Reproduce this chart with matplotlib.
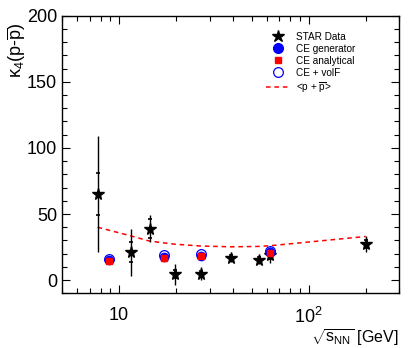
import numpy as np
import matplotlib
matplotlib.use('Agg')
import matplotlib.pyplot as plt
from matplotlib.ticker import FixedLocator, LogLocator, FuncFormatter, MultipleLocator, NullFormatter
from matplotlib.lines import Line2D

plt.rcParams['font.family'] = ['Liberation Sans', 'DejaVu Sans']
plt.rcParams['mathtext.fontset'] = 'custom'
plt.rcParams['mathtext.rm'] = 'Liberation Sans'
plt.rcParams['mathtext.it'] = 'Liberation Sans:italic'

# STAR data
star_snn = [7.7, 11.5, 14.5, 19.6, 27, 39, 54.4, 62.4, 200]
star_k4 = [65, 21, 39, 4.5, 5, 17, 15.3, 19, 27.5]
star_stat = [44, 17.5, 10.5, 8, 5, 3, 3, 6, 6]
star_sys = [16, 7.5, 7, 3, 2, 2, 2, 3, 3]

# canonical ensemble points
ce_snn = [8.8, 17.3, 27, 62.4]
ce_gen = [15, 17.5, 18.5, 21]
ce_ana = [14.5, 17, 18, 20.5]
ce_volf = [16, 19, 20, 22]

# <p + pbar>
mean_snn = [7.7, 11.5, 14.5, 19.6, 27, 39, 54.4, 62.4, 200]
mean_val = [40, 33.5, 29.5, 27.2, 25.8, 25.2, 25.5, 26, 33]

fig = plt.figure(figsize=(4.11, 3.48), dpi=100)
ax = fig.add_axes([0.151, 0.157, 0.820, 0.798])

ax.plot(mean_snn, mean_val, 'r--', lw=1.1, dashes=(3, 2.5), zorder=2)

ax.errorbar(star_snn, star_k4, yerr=star_stat, fmt='none', ecolor='k',
            elinewidth=1.0, capsize=0, zorder=3)
ax.errorbar(star_snn, star_k4, yerr=star_sys, fmt='none', ecolor='k',
            elinewidth=0, capsize=1.5, capthick=1.2, zorder=3)
ax.plot(star_snn, star_k4, 'k*', ms=8.5, zorder=4)

ax.plot(ce_snn, ce_volf, 'o', mfc='none', mec='blue', ms=7, mew=0.9, zorder=5)
ax.plot(ce_snn, ce_gen, 'o', color='blue', ms=6, zorder=5)
ax.plot(ce_snn, ce_ana, 's', color='red', ms=4, zorder=6)

ax.set_xscale('log')
ax.set_xlim(5, 300)
ax.set_ylim(-10, 200)

ax.xaxis.set_major_locator(FixedLocator([10, 100]))
ax.xaxis.set_major_formatter(FuncFormatter(lambda v, p: '10' if v == 10 else r'$10^2$'))
ax.xaxis.set_minor_locator(LogLocator(base=10, subs=np.arange(2, 10)))
ax.xaxis.set_minor_formatter(NullFormatter())
ax.yaxis.set_major_locator(MultipleLocator(50))
ax.yaxis.set_minor_locator(MultipleLocator(10))

ax.tick_params(which='both', direction='in', top=True, right=True, labelsize=13)
ax.tick_params(which='major', length=6, width=0.8)
ax.tick_params(which='minor', length=3.5, width=0.8)
ax.tick_params(axis='x', which='major', pad=10)
for s in ax.spines.values():
    s.set_linewidth(1.0)

ax.set_ylabel('κ$_{4}$(p-$\\overline{\\mathrm{p}}$)', fontsize=13)
ax.yaxis.set_label_coords(-0.10, 0.975)
ax.yaxis.label.set_horizontalalignment('right')
ax.set_xlabel(r'$\sqrt{\mathrm{s}_{\mathrm{NN}}}$ [GeV]', fontsize=11.5)
ax.xaxis.set_label_coords(1.0, -0.122)
ax.xaxis.label.set_horizontalalignment('right')

handles = [
    Line2D([], [], ls='none', marker='*', color='k', ms=9),
    Line2D([], [], ls='none', marker='o', color='blue', ms=7),
    Line2D([], [], ls='none', marker='s', color='red', ms=4),
    Line2D([], [], ls='none', marker='o', mfc='none', mec='blue', ms=7, mew=0.9),
    Line2D([], [], ls='--', color='red', lw=1.1, dashes=(3, 2.5)),
]
labels = ['STAR Data', 'CE generator', 'CE analytical', 'CE + volF',
          r'<p + $\overline{\mathrm{p}}$>']
ax.legend(handles, labels, loc='upper left', bbox_to_anchor=(0.59, 0.96),
          frameon=False, fontsize=7.2, handlelength=2.4, handletextpad=0.6,
          labelspacing=0.2, borderpad=0)

fig.savefig('out.png', dpi=100)
